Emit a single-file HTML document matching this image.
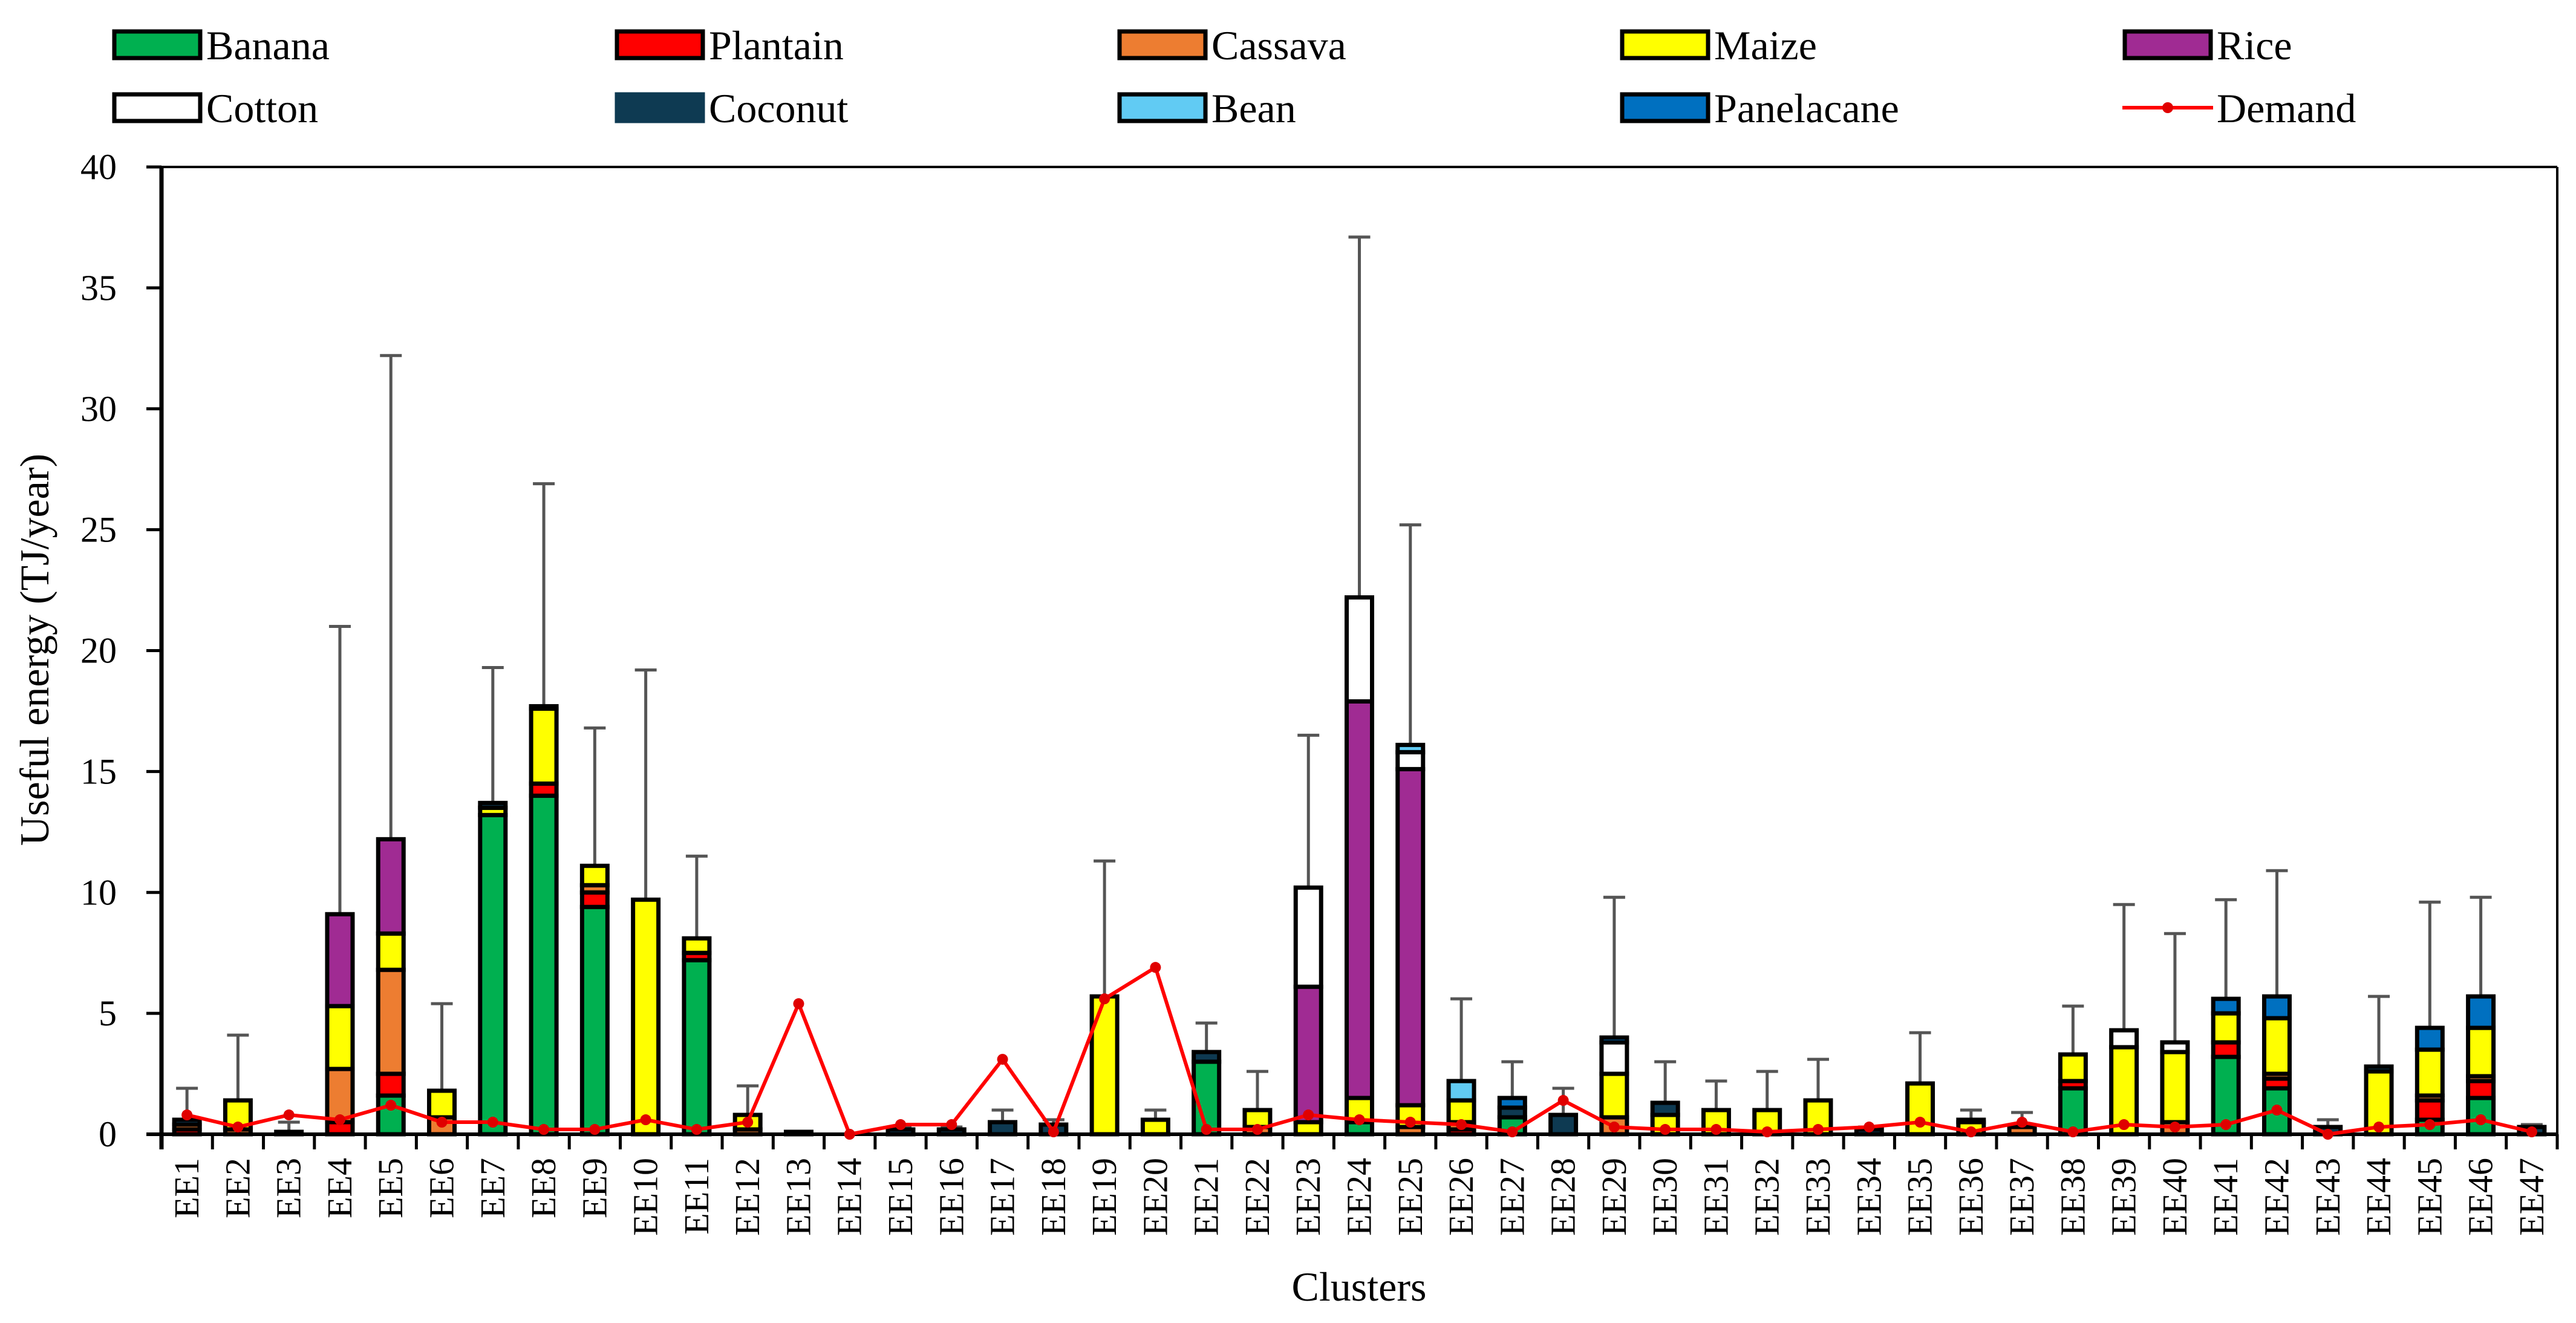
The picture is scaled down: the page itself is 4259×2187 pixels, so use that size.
<!DOCTYPE html>
<html><head><meta charset="utf-8"><style>
html,body{margin:0;padding:0;background:#fff}
svg{display:block}
text{font-family:"Liberation Serif",serif;fill:#000}
</style></head><body>
<svg id="chart" width="4259" height="2187" viewBox="0 0 4259 2187" xmlns="http://www.w3.org/2000/svg"></svg>
<script>
const categories = Array.from({length:47},(_,i)=>'EE'+(i+1));
const banana   =[0,0,0,0,1.6,0,13.2,14.0,9.4,0,7.2,0,0,0,0,0,0,0,0,0,3.0,0,0,0.5,0,0,0.7,0,0,0,0,0,0,0,0,0,0,1.9,0,0,3.2,1.9,0,0,0.6,1.5,0];
const plantain =[0.2,0,0,0.5,0.9,0,0,0.5,0.6,0,0.3,0,0,0,0,0,0,0,0,0,0,0,0,0,0,0.2,0,0,0,0,0,0,0,0,0,0,0,0.3,0,0,0.6,0.4,0,0,0.8,0.7,0];
const cassava  =[0.2,0.2,0,2.2,4.3,0.7,0,0,0.3,0,0,0.2,0,0,0,0,0,0,0,0,0,0.3,0,0,0.3,0.3,0,0,0.7,0,0,0,0,0,0,0,0.3,0,0,0.5,0,0.2,0,0,0.2,0.2,0];
const maize    =[0,1.2,0,2.6,1.5,1.1,0.3,3.1,0.8,9.7,0.6,0.6,0,0,0,0,0,0,5.7,0.6,0,0.7,0.5,1.0,0.9,0.9,0,0,1.8,0.8,1.0,1.0,1.4,0,2.1,0.5,0,1.1,3.6,2.9,1.2,2.3,0,2.6,1.9,2.0,0];
const rice     =[0,0,0,3.8,3.9,0,0,0,0,0,0,0,0,0,0,0,0,0,0,0,0,0,5.6,16.4,13.9,0,0,0,0,0,0,0,0,0,0,0,0,0,0,0,0,0,0,0,0,0,0];
const cotton   =[0,0,0,0,0,0,0,0,0,0,0,0,0,0,0,0,0,0,0,0,0,0,4.1,4.3,0.7,0,0,0,1.3,0,0,0,0,0,0,0,0,0,0.7,0.4,0,0,0,0,0,0,0];
const coconut  =[0.2,0,0.1,0,0,0,0.2,0.1,0,0,0,0,0.1,0,0.2,0.2,0.5,0.4,0,0,0.4,0,0,0,0,0,0.4,0.8,0,0.5,0,0,0,0.2,0,0.1,0,0,0,0,0,0,0.3,0.2,0,0,0.3];
const bean     =[0,0,0,0,0,0,0,0,0,0,0,0,0,0,0,0,0,0,0,0,0,0,0,0,0.3,0.8,0,0,0,0,0,0,0,0,0,0,0,0,0,0,0,0,0,0,0,0,0];
const panela   =[0,0,0,0,0,0,0,0,0,0,0,0,0,0,0,0,0,0,0,0,0,0,0,0,0,0,0.4,0,0.2,0,0,0,0,0,0,0,0,0,0,0,0.6,0.9,0,0,0.9,1.3,0];
const errorTop =[1.9,4.1,0.5,21.0,32.2,5.4,19.3,26.9,16.8,19.2,11.5,2.0,0.1,0,0.3,0.3,1.0,0.6,11.3,1.0,4.6,2.6,16.5,37.1,25.2,5.6,3.0,1.9,9.8,3.0,2.2,2.6,3.1,0.3,4.2,1.0,0.9,5.3,9.5,8.3,9.7,10.9,0.6,5.7,9.6,9.8,0.4];
const demand   =[0.8,0.3,0.8,0.6,1.2,0.5,0.5,0.2,0.2,0.6,0.2,0.5,5.4,0,0.4,0.4,3.1,0.1,5.6,6.9,0.2,0.2,0.8,0.6,0.5,0.4,0.1,1.4,0.3,0.2,0.2,0.1,0.2,0.3,0.5,0.1,0.5,0.1,0.4,0.3,0.4,1.0,0,0.3,0.4,0.6,0.1];
const yTicks   =[0,5,10,15,20,25,30,35,40];
const seriesNames=['Banana','Plantain','Cassava','Maize','Rice','Cotton','Coconut','Bean','Panelacane'];
const seriesData=[banana,plantain,cassava,maize,rice,cotton,coconut,bean,panela];
const colors=['#00b050','#ff0000','#ed7d31','#ffff00','#a02b93','#ffffff','#0e3a52','#61cbf3','#0070c0'];

const svg=document.getElementById('chart');
const NS='http://www.w3.org/2000/svg';
const X0=267,X1=4228,Y0=1875,Y1=276;
const bw=(X1-X0)/categories.length;
const xC=i=>X0+bw*(i+0.5);
const yS=v=>Y0-(v/40)*(Y0-Y1);
function mk(tag,attrs,parent){const e=document.createElementNS(NS,tag);for(const k in attrs)e.setAttribute(k,attrs[k]);(parent||svg).appendChild(e);return e;}

let e=mk('line',{x1:X0,y1:Y1,x2:X1,y2:Y1,stroke:'#000','stroke-width':4});


e=mk('line',{x1:X1,y1:Y1,x2:X1,y2:Y0,stroke:'#000','stroke-width':4});



yTicks.forEach(t=>{
  const l=mk('line',{x1:X0-25,y1:yS(t),x2:X0,y2:yS(t),stroke:'#000','stroke-width':5});
  
  
  const tx=mk('text',{x:193,y:yS(t)+20,'text-anchor':'end','font-size':60});
  tx.textContent=t;
  
  
});

categories.forEach((c,i)=>{
  const g=mk('g',{});
  
  
  let total=0;seriesData.forEach(s=>total+=s[i]);
  if(errorTop[i]>total){
    const el=mk('line',{x1:xC(i),y1:yS(total),x2:xC(i),y2:yS(errorTop[i]),stroke:'#555','stroke-width':5},g);
    
    
    const cap=mk('line',{x1:xC(i)-18,y1:yS(errorTop[i]),x2:xC(i)+18,y2:yS(errorTop[i]),stroke:'#555','stroke-width':5},g);
    
    
  }
  let acc=0;
  seriesData.forEach((s,k)=>{
    const v=s[i]; if(v<=0)return;
    const r=mk('rect',{x:xC(i)-21,y:yS(acc+v),width:42,height:Math.max(yS(acc)-yS(acc+v),1),fill:colors[k],stroke:'#000','stroke-width':7},g);
    
    
    acc+=v;
  });
});

e=mk('line',{x1:X0,y1:Y1-2,x2:X0,y2:Y0+25,stroke:'#000','stroke-width':7});


e=mk('line',{x1:X0-25,y1:Y0,x2:X1,y2:Y0,stroke:'#000','stroke-width':6});


for(let i=1;i<=categories.length;i++){
  const t=mk('line',{x1:X0+bw*i,y1:Y0,x2:X0+bw*i,y2:Y0+25,stroke:'#000','stroke-width':5});
  
  
}
categories.forEach((c,i)=>{
  const t=mk('text',{x:xC(i)+19,y:1914,'text-anchor':'end','font-size':58,transform:`rotate(-90 ${xC(i)+19} 1914)`});
  t.textContent=c;
  
  
});

const pts=demand.map((d,i)=>xC(i)+','+yS(d)).join(' ');
e=mk('polyline',{points:pts,fill:'none',stroke:'#ff0000','stroke-width':6});


demand.forEach((d,i)=>{
  const p=mk('circle',{cx:xC(i),cy:yS(d),r:9,fill:'#e00000'});
  
  
});

e=mk('text',{x:0,y:0,'text-anchor':'middle','font-size':68,transform:'translate(80 1074) rotate(-90)'});
e.textContent='Useful energy (TJ/year)';


e=mk('text',{x:2247,y:2150,'text-anchor':'middle','font-size':68});
e.textContent='Clusters';



const legendNames=['Banana','Plantain','Cassava','Maize','Rice','Cotton','Coconut','Bean','Panelacane','Demand'];
const legendColors=['#00b050','#ff0000','#ed7d31','#ffff00','#a02b93','#ffffff','#0e3a52','#61cbf3','#0070c0',null];
const legX=[185,1016,1847,2678,3509];
legendNames.forEach((n,i)=>{
  const col=i%5,row=Math.floor(i/5);
  const x=legX[col],y=row?152:48;
  const g=mk('g',{});
  
  
  if(legendColors[i]){
    const r=mk('rect',{x:x+4,y:y+4,width:142,height:44,fill:legendColors[i],stroke:n==='Coconut'?'#0e3a52':'#000','stroke-width':7},g);
    
    
  } else {
    const l=mk('line',{x1:x,y1:y+26,x2:x+150,y2:y+26,stroke:'#ff0000','stroke-width':6},g);
    
    
    const c=mk('circle',{cx:x+75,cy:y+26,r:9,fill:'#e00000'},g);
    
    
  }
  const t=mk('text',{x:x+156,y:y+50,'font-size':68},g);
  t.textContent=n;
  
  
});
</script>
</body></html>
